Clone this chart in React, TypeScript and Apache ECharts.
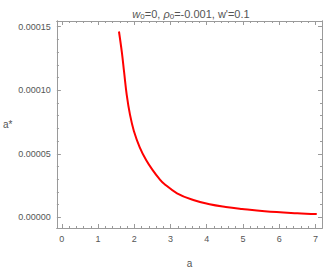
import React, { useEffect, useRef } from "react";
import * as echarts from "echarts";

const aValues = [1.578, 1.659, 1.72, 1.793, 1.882, 1.989, 2.151, 2.331, 2.508, 2.688, 2.823, 3.18, 3.629, 4.078, 4.524, 4.973, 5.6, 6.497, 7.035];
const aStar = [1.4615e-4, 1.2953e-4, 1.1415e-4, 9.615e-5, 8.077e-5, 6.8e-5, 5.515e-5, 4.492e-5, 3.723e-5, 3.05e-5, 2.65e-5, 1.9e-5, 1.37e-5, 1.031e-5, 8.23e-6, 6.7e-6, 4.9e-6, 3.3e-6, 2.62e-6];
const xMajorTicks = [0, 1, 2, 3, 4, 5, 6, 7];
const yMajorTicks = [0, 0.00005, 0.0001, 0.00015];

const X_MIN = -0.135, X_MAX = 7.18;
const Y_MIN = -0.0000083, Y_MAX = 0.0001544;

const xMinor: number[] = [];
for (let i = 0; i <= 35; i++) { if (i % 5 !== 0) xMinor.push(+(i * 0.2).toFixed(2)); }
const yMinor: number[] = [];
for (let i = 0; i <= 15; i++) { if (i % 5 !== 0) yMinor.push(+(i * 0.00001).toFixed(6)); }

const GRAY = "#9a9a9a";
const LABEL = "#555555";
const FONT = "Liberation Sans";

function xAx(position: "top" | "bottom", values: number[], len: number, showLabel: boolean, extra: any = {}) {
  return {
    type: "value", min: X_MIN, max: X_MAX, position,
    axisLine: { show: true, onZero: false, lineStyle: { color: GRAY, width: 1 } },
    axisTick: { show: true, inside: true, length: len, customValues: values, lineStyle: { color: GRAY } },
    axisLabel: { show: showLabel, customValues: values, color: LABEL, fontSize: 9, fontFamily: FONT, margin: 6, formatter: (v: number) => String(v) },
    splitLine: { show: false },
    ...extra,
  };
}
function yAx(position: "left" | "right", values: number[], len: number, showLabel: boolean, extra: any = {}) {
  return {
    type: "value", min: Y_MIN, max: Y_MAX, position,
    axisLine: { show: true, onZero: false, lineStyle: { color: GRAY, width: 1 } },
    axisTick: { show: true, inside: true, length: len, customValues: values, lineStyle: { color: GRAY } },
    axisLabel: { show: showLabel, customValues: values, color: LABEL, fontSize: 9, fontFamily: FONT, margin: 6, formatter: (v: number) => v.toFixed(5) },
    splitLine: { show: false },
    ...extra,
  };
}

export default function App() {
  const ref = useRef<HTMLDivElement>(null);
  useEffect(() => {
    if (!ref.current) return;
    const chart = echarts.init(ref.current, null, { renderer: "svg" });
    chart.setOption({
      animation: false,
      backgroundColor: "#ffffff",
      title: {
        text: "{i|w}{sub|0}{n|=0, }{i|ρ}{sub|0}{n|=-0.001, w'=0.1}",
        left: 186, top: 2, textAlign: "center",
        textStyle: {
          fontFamily: FONT, fontSize: 11, color: LABEL, fontWeight: "normal",
          rich: {
            n: { fontFamily: FONT, fontSize: 11, color: LABEL, fontWeight: "normal" },
            i: { fontFamily: FONT, fontSize: 11, color: LABEL, fontStyle: "italic", fontWeight: "normal" },
            sub: { fontFamily: FONT, fontSize: 8, color: LABEL, fontWeight: "normal", verticalAlign: "bottom", padding: [5, 0, 0, 0] },
          },
        },
      },
      grid: { left: 50, right: 5, top: 21, bottom: 41 },
      xAxis: [
        xAx("bottom", xMajorTicks, 4, true, { name: "a", nameLocation: "middle", nameGap: 30, nameTextStyle: { color: LABEL, fontSize: 10, fontFamily: FONT } }),
        xAx("bottom", xMinor, 2, false),
        xAx("top", xMajorTicks, 4, false),
        xAx("top", xMinor, 2, false),
      ],
      yAxis: [
        yAx("left", yMajorTicks, 4, true, { name: "a*", nameLocation: "middle", nameRotate: 0, nameGap: 38, nameTextStyle: { color: LABEL, fontSize: 10, fontFamily: FONT } }),
        yAx("left", yMinor, 2, false),
        yAx("right", yMajorTicks, 4, false),
        yAx("right", yMinor, 2, false),
      ],
      series: [
        {
          type: "line",
          data: aValues.map((a, i) => [a, aStar[i]]),
          smooth: 0.4,
          showSymbol: false,
          lineStyle: { color: "#ff0000", width: 2 },
          xAxisIndex: 0, yAxisIndex: 0,
        },
      ],
    });
    return () => chart.dispose();
  }, []);
  return <div ref={ref} style={{ position: "fixed", left: 0, top: 0, width: 327, height: 273 }} />;
}
